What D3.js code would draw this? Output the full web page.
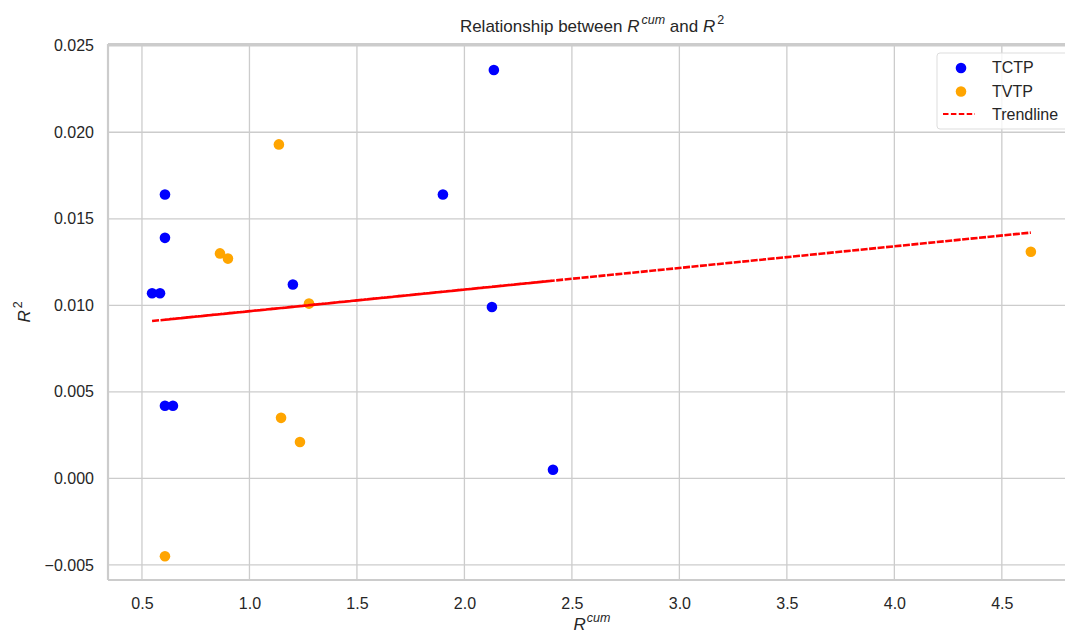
<!DOCTYPE html>
<html>
<head>
<meta charset="utf-8">
<script src="https://cdn.jsdelivr.net/npm/d3@7"></script>
<style>
  body { margin: 0; background: #fff; overflow: hidden; }
  svg { display: block; font-family: "Liberation Sans", Arial, sans-serif; }
</style>
</head>
<body>
<svg id="chart"></svg>
<script>
// values
const tctpX = [0.547, 0.584, 0.607, 0.607, 0.607, 0.644, 1.202, 1.900, 2.137, 2.128, 2.412];
const tctpY = [0.0107, 0.0107, 0.0164, 0.0139, 0.0042, 0.0042, 0.0112, 0.0164, 0.0236, 0.0099, 0.0005];
const tvtpX = [0.607, 0.863, 0.900, 1.137, 1.147, 1.235, 1.277, 4.635];
const tvtpY = [-0.0045, 0.0130, 0.0127, 0.0193, 0.0035, 0.0021, 0.0101, 0.0131];
const trendSlope = 0.00125;
const trendIntercept = 0.00841;
const xTicks = [0.5, 1.0, 1.5, 2.0, 2.5, 3.0, 3.5, 4.0, 4.5];
const yTicks = [-0.005, 0.000, 0.005, 0.010, 0.015, 0.020, 0.025];

const w = 1065, h = 635;
const margin = { top: 44, right: -11, bottom: 55, left: 108 };

const svg = d3.select("#chart").attr("width", w).attr("height", h);

const xScale = d3.scaleLinear()
    .domain([0.342, 4.845])
    .range([margin.left, w - margin.right]);

const yScale = d3.scaleLinear()
    .domain([-0.00587, 0.0251])
    .range([h - margin.bottom, margin.top]);

const gridColor = "#cccccc";
const textColor = "#262626";

// grid
svg.append("g")
    .selectAll("line")
    .data(xTicks)
    .join("line")
    .attr("x1", d => xScale(d)).attr("x2", d => xScale(d))
    .attr("y1", margin.top).attr("y2", h - margin.bottom)
    .attr("stroke", gridColor).attr("stroke-width", 1.3);

svg.append("g")
    .selectAll("line")
    .data(yTicks)
    .join("line")
    .attr("x1", margin.left).attr("x2", w - margin.right)
    .attr("y1", d => yScale(d)).attr("y2", d => yScale(d))
    .attr("stroke", gridColor).attr("stroke-width", 1.3);

// axes (tick labels only, seaborn whitegrid style)
let xAxis = g => g
    .attr("transform", `translate(0,${h - margin.bottom})`)
    .call(d3.axisBottom(xScale).tickValues(xTicks).tickFormat(d3.format(".1f")).tickSize(0).tickPadding(18))
    .call(g => g.select(".domain").remove())
    .call(g => g.selectAll("text").attr("fill", textColor).style("font-size", "16px"));

svg.append("g").call(xAxis);

let yAxis = g => g
    .attr("transform", `translate(${margin.left},0)`)
    .call(d3.axisLeft(yScale).tickValues(yTicks).tickFormat(d => d3.format(".3f")(d).replace("-", "\u2212")).tickSize(0).tickPadding(14))
    .call(g => g.select(".domain").remove())
    .call(g => g.selectAll("text").attr("fill", textColor).style("font-size", "16px"));

svg.append("g").call(yAxis);

// spines
const spines = svg.append("g").attr("stroke", gridColor).attr("stroke-width", 2.2).attr("fill", "none");
spines.append("line").attr("x1", margin.left).attr("x2", w).attr("y1", margin.top).attr("y2", margin.top);
spines.append("line").attr("x1", margin.left).attr("x2", w).attr("y1", h - margin.bottom).attr("y2", h - margin.bottom);
spines.append("line").attr("x1", margin.left).attr("x2", margin.left).attr("y1", margin.top).attr("y2", h - margin.bottom);

// points
const tctp = tctpX.map((x, i) => ({ x: x, y: tctpY[i] }));
const tvtp = tvtpX.map((x, i) => ({ x: x, y: tvtpY[i] }));

svg.append("g")
    .selectAll("circle")
    .data(tctp)
    .join("circle")
    .attr("cx", d => xScale(d.x))
    .attr("cy", d => yScale(d.y))
    .attr("r", 5.3)
    .attr("fill", "#0000ff");

svg.append("g")
    .selectAll("circle")
    .data(tvtp)
    .join("circle")
    .attr("cx", d => xScale(d.x))
    .attr("cy", d => yScale(d.y))
    .attr("r", 5.3)
    .attr("fill", "#ffa500");

// trendline, drawn through every x in data order like the original
const allX = tctpX.concat(tvtpX);
const line = d3.line()
    .x(d => xScale(d))
    .y(d => yScale(trendIntercept + trendSlope * d));

svg.append("path")
    .datum(allX)
    .attr("d", line)
    .attr("fill", "none")
    .attr("stroke", "#ff0000")
    .attr("stroke-width", 2.6)
    .attr("stroke-dasharray", "7,1.5");

// title and labels
const title = svg.append("text")
    .attr("x", (margin.left + w - margin.right) / 2)
    .attr("y", 32)
    .attr("text-anchor", "middle")
    .attr("fill", textColor)
    .style("font-size", "17px");
title.append("tspan").text("Relationship between ");
title.append("tspan").attr("font-style", "italic").text("R");
title.append("tspan").attr("font-style", "italic").attr("font-size", "12.5px").attr("dy", -8).attr("dx", 2).text("cum");
title.append("tspan").attr("dy", 8).text(" and ");
title.append("tspan").attr("font-style", "italic").text("R");
title.append("tspan").attr("font-size", "12.5px").attr("dy", -8).attr("dx", 2).text("2");

const xLabel = svg.append("text")
    .attr("x", (margin.left + w - margin.right) / 2)
    .attr("y", 630)
    .attr("text-anchor", "middle")
    .attr("fill", textColor)
    .style("font-size", "17px");
xLabel.append("tspan").attr("font-style", "italic").text("R");
xLabel.append("tspan").attr("font-style", "italic").attr("font-size", "12.5px").attr("dy", -8).attr("dx", 1).text("cum");

const yLabel = svg.append("text")
    .attr("transform", `translate(30,${(margin.top + h - margin.bottom) / 2}) rotate(-90)`)
    .attr("text-anchor", "middle")
    .attr("fill", textColor)
    .style("font-size", "17px");
yLabel.append("tspan").attr("font-style", "italic").text("R");
yLabel.append("tspan").attr("font-size", "12.5px").attr("dy", -8).attr("dx", 2).text("2");

// legend
const legend = svg.append("g").attr("transform", "translate(937,53)");
legend.append("rect")
    .attr("width", 150).attr("height", 76)
    .attr("rx", 3)
    .attr("fill", "#ffffff").attr("fill-opacity", 0.8)
    .attr("stroke", "#dddddd").attr("stroke-width", 1);

const legendItems = [
    { label: "TCTP", color: "#0000ff", type: "dot" },
    { label: "TVTP", color: "#ffa500", type: "dot" },
    { label: "Trendline", color: "#ff0000", type: "line" }
];

legendItems.forEach((item, i) => {
    const ly = 14 + i * 23.5;
    if (item.type === "dot") {
        legend.append("circle").attr("cx", 24).attr("cy", ly + 1).attr("r", 5.3).attr("fill", item.color);
    } else {
        legend.append("line")
            .attr("x1", 6).attr("x2", 38).attr("y1", ly).attr("y2", ly)
            .attr("stroke", item.color).attr("stroke-width", 2)
            .attr("stroke-dasharray", "5.5,2.4");
    }
    legend.append("text")
        .attr("x", 55).attr("y", ly + 6)
        .attr("fill", textColor)
        .style("font-size", "16px")
        .text(item.label);
});
</script>
</body>
</html>
